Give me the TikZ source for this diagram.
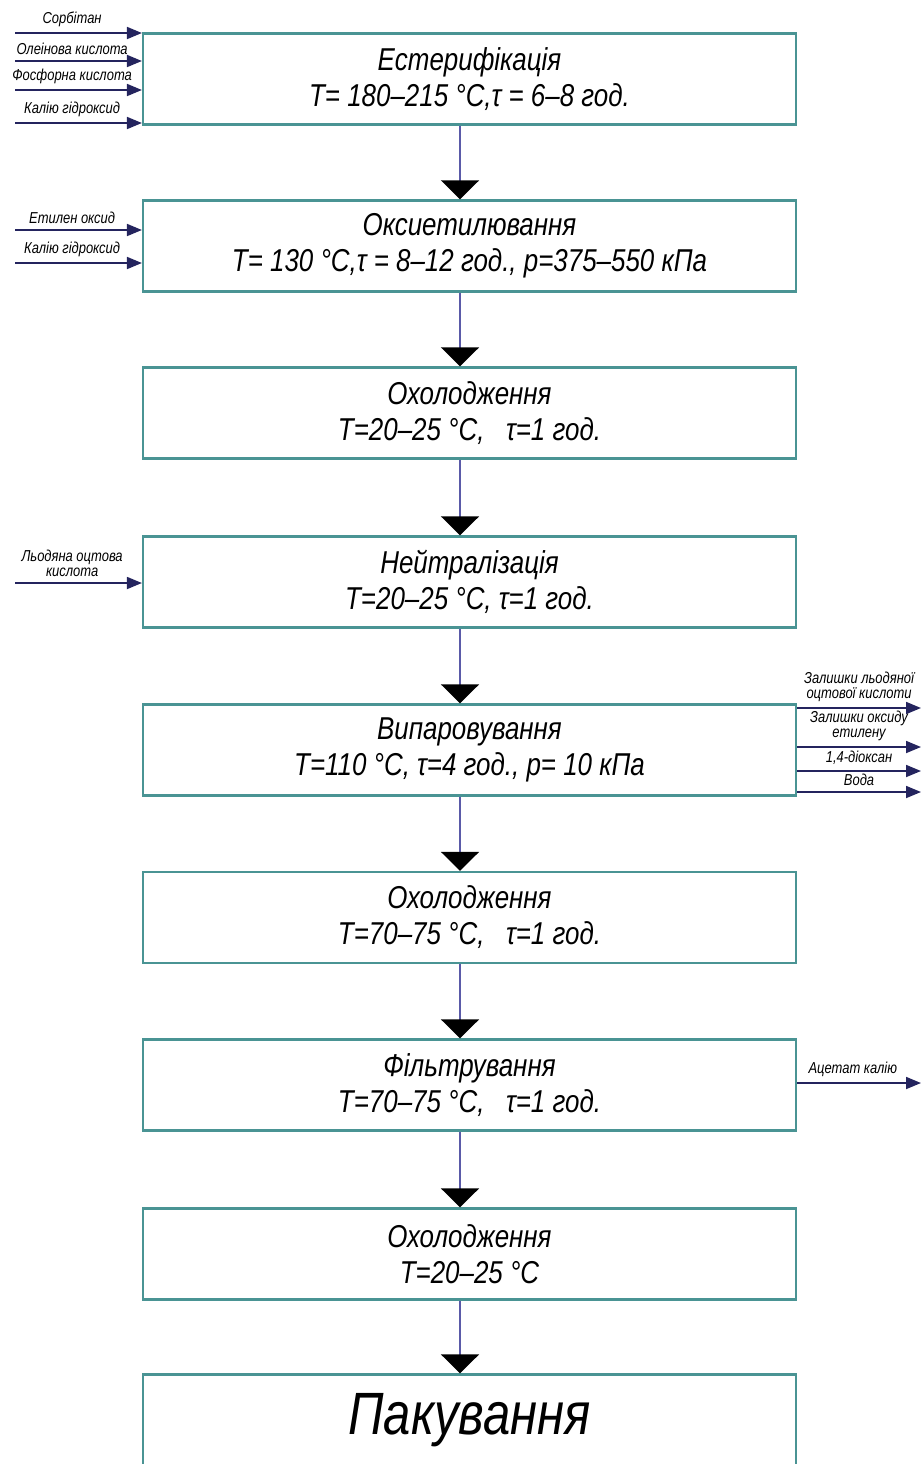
\documentclass[tikz,border=0pt]{standalone}
\usepackage{fontspec}
\newfontfamily\gost{Liberation Sans}[FakeStretch=0.82]
\usetikzlibrary{arrows.meta}
\definecolor{boxline}{HTML}{4A9494}
\definecolor{flowline}{HTML}{5A5AA8}
\definecolor{feedline}{HTML}{24245E}
\tikzset{
  stage/.style={draw=boxline,line width=1.3pt,fill=white,minimum width=13.06cm,
    minimum height=1.82cm,align=center,inner sep=0pt,
    font=\gost\itshape\fontsize{18}{20.5}\selectfont},
  flow/.style={draw=flowline,line width=0.8pt,-{Triangle[width=0.76cm,length=0.38cm,black]}},
  feed/.style={draw=feedline,line width=1pt,-{Triangle[width=0.24cm,length=0.3cm,feedline]}},
  lbl/.style={font=\gost\itshape\fontsize{9}{8.8}\selectfont,align=center,inner sep=1pt,above=2pt}
}
\begin{document}
\begin{tikzpicture}[x=0.02cm,y=-0.02cm]
  \useasboundingbox (0,0) rectangle (923,1464);
  % stages
  \node[stage] (b1) at (469.5,79) {Естерифікація\\Т= 180–215 °C,τ = 6–8 год.};
  \node[stage] (b2) at (469.5,246) {Оксиетилювання\\Т= 130 °C,τ = 8–12 год., p=375–550 кПа};
  \node[stage] (b3) at (469.5,413) {Охолодження\\Т=20–25 °C, \ \ τ=1 год.};
  \node[stage] (b4) at (469.5,582) {Нейтралізація\\Т=20–25 °C, τ=1 год.};
  \node[stage] (b5) at (469.5,750) {Випаровування\\Т=110 °C, τ=4 год., p= 10 кПа};
  \node[stage] (b6) at (469.5,917.5) {Охолодження\\Т=70–75 °C, \ \ τ=1 год.};
  \node[stage] (b7) at (469.5,1085) {Фільтрування\\Т=70–75 °C, \ \ τ=1 год.};
  \node[stage] (b8) at (469.5,1254) {Охолодження\\Т=20–25 °C};
  \node[stage,font=\gost\itshape\fontsize{34}{36}\selectfont] (b9) at (469.5,1420) {Пакування};
  % main flow
  \coordinate (axis) at (460,0);
  \foreach \a/\b in {b1/b2,b2/b3,b3/b4,b4/b5,b5/b6,b6/b7,b7/b8,b8/b9}
    \draw[flow] (\a.south -| axis) -- (\b.north -| axis);
  % inputs
  \foreach \y/\t in {33/Сорбітан,61/Олеінова кислота,90/Фосфорна кислота,123/Калію гідроксид}{
    \coordinate (src\y) at (15,\y);
    \draw[feed] (src\y) -- node[lbl,pos=0.45]{\t} (src\y -| b1.west);
  }
  \foreach \y/\t in {230/Етилен оксид,263/Калію гідроксид}{
    \coordinate (src\y) at (15,\y);
    \draw[feed] (src\y) -- node[lbl,pos=0.45]{\t} (src\y -| b2.west);
  }
  \coordinate (src583) at (15,583);
  \draw[feed] (src583) -- node[lbl,pos=0.45]{Льодяна оцтова\\кислота} (src583 -| b4.west);
  % outputs
  \foreach \y/\t in {708/{Залишки льодяної\\оцтової кислоти},747/{Залишки оксиду\\етилену},
      771/{1,4-діоксан},792/Вода}{
    \coordinate (dst\y) at (921,\y);
    \draw[feed] (b5.east |- dst\y) -- node[lbl]{\t} (dst\y);
  }
  \coordinate (dst1083) at (921,1083);
  \draw[feed] (b7.east |- dst1083) -- node[lbl,pos=0.45]{Ацетат калію} (dst1083);
\end{tikzpicture}
\end{document}
